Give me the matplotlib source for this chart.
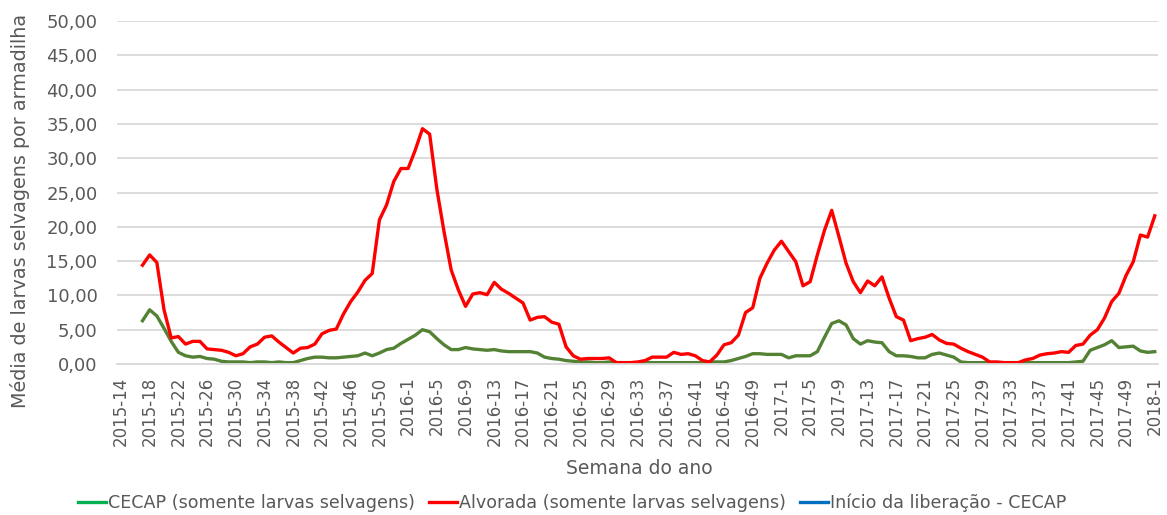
import numpy as np
import matplotlib
matplotlib.use("Agg")
import matplotlib.pyplot as plt
from matplotlib.lines import Line2D

# weeks: 2015-14 .. 2015-53, 2016-1 .. 2016-52, 2017-1 .. 2017-52, 2018-1
weeks = ([f"2015-{w}" for w in range(14, 54)]
         + [f"2016-{w}" for w in range(1, 53)]
         + [f"2017-{w}" for w in range(1, 53)]
         + ["2018-1"])

nan = np.nan

# CECAP (somente larvas selvagens)
cecap = [nan, nan, nan,
         6.3, 7.9, 7.0, 5.2, 3.3, 1.7, 1.2, 1.0, 1.1, 0.8,
         0.7, 0.4, 0.3, 0.3, 0.3, 0.2, 0.3, 0.3, 0.2, 0.3,
         0.2, 0.2, 0.5, 0.8, 1.0, 1.0, 0.9, 0.9, 1.0, 1.1,
         1.2, 1.6, 1.2, 1.6, 2.1, 2.3, 3.0, 3.6, 4.2, 5.0,
         4.7, 3.7, 2.8, 2.1, 2.1, 2.4, 2.2, 2.1, 2.0, 2.1,
         1.9, 1.8, 1.8, 1.8, 1.8, 1.6, 1.0, 0.8, 0.7, 0.5,
         0.4, 0.3, 0.3, 0.2, 0.2, 0.3, 0.2, 0.2, 0.2, 0.2,
         0.2, 0.2, 0.2, 0.2, 0.2, 0.2, 0.2, 0.2, 0.2, 0.3,
         0.3, 0.3, 0.5, 0.8, 1.1, 1.5, 1.5, 1.4, 1.4, 1.4,
         0.9, 1.2, 1.2, 1.2, 1.8, 3.9, 5.9, 6.3, 5.7, 3.7,
         2.9, 3.4, 3.2, 3.1, 1.8, 1.2, 1.2, 1.1, 0.9, 0.9,
         1.4, 1.6, 1.3, 1.0, 0.3, 0.2, 0.2, 0.2, 0.2, 0.2,
         0.2, 0.2, 0.2, 0.2, 0.2, 0.2, 0.2, 0.2, 0.2, 0.2,
         0.3, 0.4, 2.0, 2.4, 2.8, 3.4, 2.4, 2.5, 2.6, 1.9,
         1.7, 1.8]

# Alvorada (somente larvas selvagens)
alvorada = [nan, nan, nan,
            14.4, 15.9, 14.8, 7.9, 3.8, 4.0, 2.9, 3.3, 3.3, 2.2,
            2.1, 2.0, 1.7, 1.2, 1.5, 2.5, 2.9, 3.9, 4.1, 3.2,
            2.4, 1.6, 2.3, 2.4, 2.9, 4.4, 4.9, 5.1, 7.3, 9.1,
            10.5, 12.2, 13.2, 21.0, 23.2, 26.6, 28.5, 28.5, 31.2, 34.3,
            33.5, 25.5, 19.3, 13.7, 10.8, 8.4, 10.2, 10.4, 10.1, 11.9,
            10.9, 10.3, 9.6, 8.9, 6.4, 6.8, 6.9, 6.1, 5.8, 2.5,
            1.2, 0.7, 0.8, 0.8, 0.8, 0.9, 0.2, 0.2, 0.2, 0.3,
            0.5, 1.0, 1.0, 1.0, 1.7, 1.4, 1.5, 1.2, 0.5, 0.3,
            1.3, 2.8, 3.1, 4.2, 7.5, 8.2, 12.5, 14.7, 16.6, 17.9,
            16.4, 14.9, 11.4, 12.0, 15.9, 19.5, 22.4, 18.6, 14.7, 12.0,
            10.4, 12.1, 11.4, 12.7, 9.6, 6.9, 6.4, 3.4, 3.7, 3.9,
            4.3, 3.5, 3.0, 2.9, 2.3, 1.8, 1.4, 1.0, 0.3, 0.3,
            0.2, 0.2, 0.2, 0.6, 0.8, 1.3, 1.5, 1.6, 1.8, 1.7,
            2.7, 2.9, 4.2, 5.0, 6.7, 9.1, 10.3, 12.9, 14.9, 18.8,
            18.5, 21.6]

gray = "#595959"
plt.rcParams["font.family"] = ["DejaVu Sans"]

W, H = 1167, 515
fig = plt.figure(figsize=(W / 100, H / 100), dpi=100)
ax = fig.add_axes([117 / W, 1 - 364 / H, (1158 - 117) / W, (364 - 21) / H])

x = np.arange(len(weeks))
ax.plot(x, cecap, color="#548235", lw=2.4, solid_joinstyle="round")
ax.plot(x, alvorada, color="#FF0000", lw=2.4, solid_joinstyle="round")

ax.set_ylim(0, 50)
ax.set_xlim(-0.55, len(weeks) - 1 + 0.45)
ax.set_yticks(np.arange(0, 51, 5))
ax.set_yticklabels([f"{v:.2f}".replace(".", ",") for v in range(0, 51, 5)])
ax.set_xticks(x[::4])
ax.set_xticklabels(weeks[::4], rotation=90)
ax.tick_params(axis="both", length=0, colors=gray)
ax.tick_params(axis="y", pad=14, labelsize=13)
ax.tick_params(axis="x", pad=9, labelsize=12)

ax.grid(axis="y", color="#D9D9D9", lw=1.3)
ax.set_axisbelow(True)
for s in ["top", "right", "left"]:
    ax.spines[s].set_visible(False)
ax.spines["bottom"].set_color("#D9D9D9")
ax.spines["bottom"].set_linewidth(1.3)

fig.text(20 / W, 1 - 211 / H, "Média de larvas selvagens por armadilha",
         rotation=90, ha="center", va="center", color=gray, fontsize=13.8)
fig.text(639 / W, 1 - 468 / H, "Semana do ano", ha="center", va="center",
         color=gray, fontsize=13.5)

handles = [Line2D([], [], color="#00B050", lw=2.4),
           Line2D([], [], color="#FF0000", lw=2.4),
           Line2D([], [], color="#0070C0", lw=2.4)]
labels = ["CECAP (somente larvas selvagens)",
          "Alvorada (somente larvas selvagens)",
          "Início da liberação - CECAP"]
leg = fig.legend(handles, labels, loc="center", bbox_to_anchor=(572 / W, 1 - 503 / H),
                 ncol=3, frameon=False, fontsize=12.6, handlelength=1.6,
                 handletextpad=0.12, columnspacing=0.8)
for t in leg.get_texts():
    t.set_color(gray)

fig.savefig("out.png", dpi=100)
plt.close(fig)
